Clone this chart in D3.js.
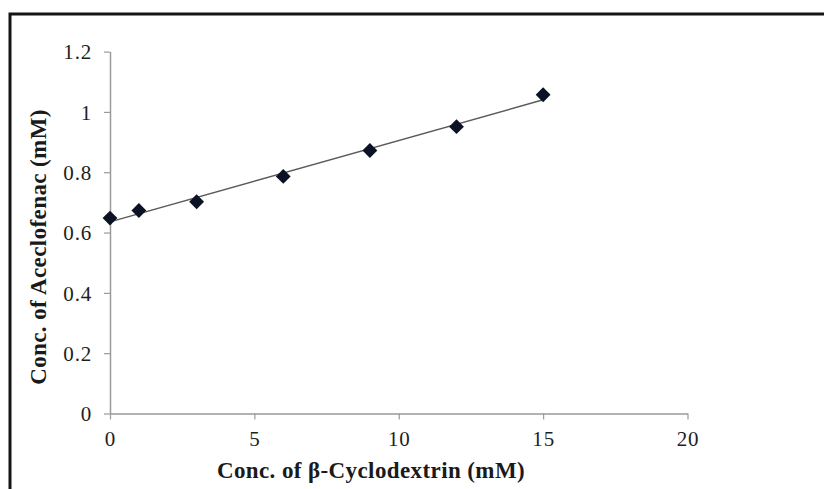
<!DOCTYPE html>
<html>
<head>
<meta charset="utf-8">
<script src="https://cdn.jsdelivr.net/npm/d3@7"></script>
<style>
  body { margin: 0; background: #fff; }
  svg { display: block; }
  .tick text { font-family: "Liberation Serif", "Times New Roman", serif; font-size: 21px; letter-spacing: 0.8px; fill: #1e1e1e; }
  .axis-title { font-family: "Liberation Serif", "Times New Roman", serif; font-size: 23px; letter-spacing: 0.4px; font-weight: bold; fill: #1a1a1a; }
</style>
</head>
<body>
<div id="chart"></div>
<script>
// beta-cyclodextrin concentration (mM) vs aceclofenac solubility (mM)
const cdConc = [0, 1, 3, 6, 9, 12, 15]
const aceConc = [0.648, 0.673, 0.702, 0.786, 0.872, 0.951, 1.057]
const xTicks = [0, 5, 10, 15, 20]
const yTicks = [0, 0.2, 0.4, 0.6, 0.8, 1, 1.2]

const width = 824, height = 489
const plot = { left: 110, right: 687.5, top: 51.6, bottom: 413.5 }

const svg = d3.select("#chart").append("svg")
  .attr("width", width)
  .attr("height", height)

// frame (only top and left edges visible)
svg.append("path")
  .attr("d", `M10,${height} L10,14 L${width},14`)
  .attr("fill", "none")
  .attr("stroke", "#141414")
  .attr("stroke-width", 3)

const x = d3.scaleLinear().domain([0, 20]).range([plot.left, plot.right])
const y = d3.scaleLinear().domain([0, 1.2]).range([plot.bottom, plot.top])

// x axis
const gx = svg.append("g")
  .attr("transform", `translate(0,${plot.bottom})`)
  .call(d3.axisBottom(x).tickValues(xTicks).tickSize(6).tickSizeOuter(0).tickPadding(12))
// y axis
const gy = svg.append("g")
  .attr("transform", `translate(${plot.left},0)`)
  .call(d3.axisLeft(y).tickValues(yTicks).tickFormat(d3.format("~g")).tickSize(6).tickSizeOuter(0).tickPadding(12))

for (const g of [gx, gy]) {
  g.select(".domain").attr("stroke", "#9a9a9a").attr("stroke-width", 1.5)
  g.selectAll(".tick line").attr("stroke", "#9a9a9a").attr("stroke-width", 1.2)
}
gy.selectAll(".tick text").attr("dy", "0.34em")

// linear trendline (least squares over the points)
const mx = d3.mean(cdConc), my = d3.mean(aceConc)
const sxy = d3.sum(cdConc, (v, i) => (v - mx) * (aceConc[i] - my))
const sxx = d3.sum(cdConc, v => (v - mx) ** 2)
const slope = sxy / sxx, icpt = my - slope * mx
const xExt = d3.extent(cdConc)

svg.append("line")
  .attr("x1", x(xExt[0])).attr("y1", y(icpt + slope * xExt[0]))
  .attr("x2", x(xExt[1])).attr("y2", y(icpt + slope * xExt[1]))
  .attr("stroke", "#5a5a5a")
  .attr("stroke-width", 1.5)

// diamond markers
svg.append("g").selectAll("path")
  .data(cdConc.map((c, i) => ({ c, v: aceConc[i] })))
  .join("path")
  .attr("d", d3.symbol().type(d3.symbolSquare).size(110))
  .attr("transform", d => `translate(${x(d.c)},${y(d.v)}) rotate(45)`)
  .attr("fill", "#0b1226")

// axis titles
svg.append("text")
  .attr("class", "axis-title")
  .attr("x", 371)
  .attr("y", 478)
  .attr("text-anchor", "middle")
  .text("Conc. of \u03b2-Cyclodextrin (mM)")

svg.append("text")
  .attr("class", "axis-title")
  .attr("transform", "translate(46,247) rotate(-90)")
  .attr("text-anchor", "middle")
  .text("Conc. of Aceclofenac (mM)")
</script>
</body>
</html>
